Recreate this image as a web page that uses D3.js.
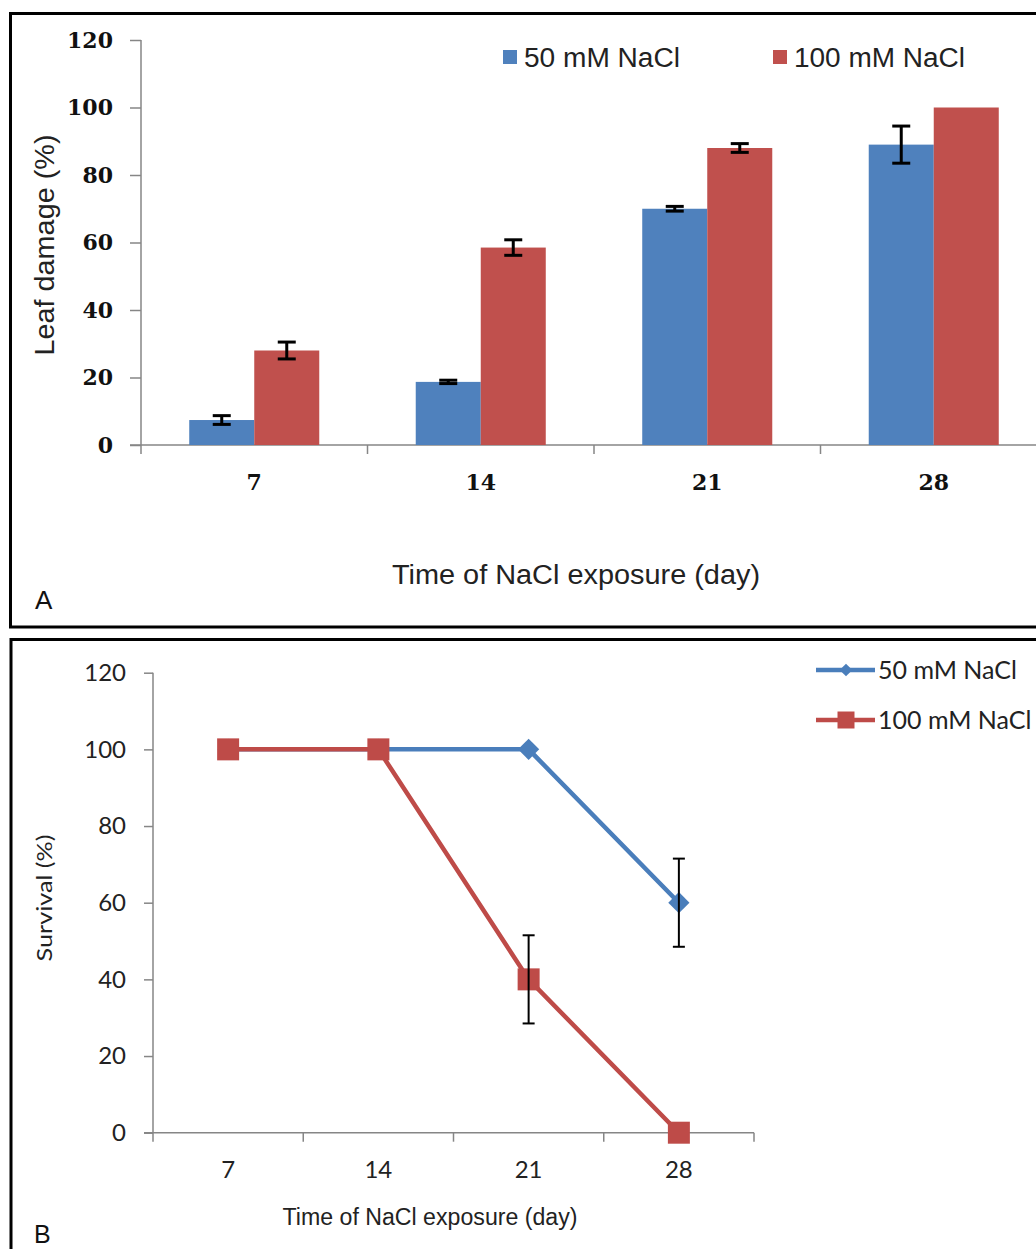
<!DOCTYPE html>
<html>
<head>
<meta charset="utf-8">
<script src="https://cdn.jsdelivr.net/npm/d3@7"></script>
<style>
  html, body { margin: 0; padding: 0; background: #fff; }
  svg { display: block; }
</style>
</head>
<body>
<script>
// Days of NaCl exposure shared by both panels
const days = [7, 14, 21, 28];
const yTicks = [0, 20, 40, 60, 80, 100, 120];
const seriesNames = ["50 mM NaCl", "100 mM NaCl"];

// Panel A: leaf damage (%) with error bars
const damage50 = [7.4, 18.7, 70, 89];
const damage50Err = [1.3, 0.5, 0.7, 5.5];
const damage100 = [28, 58.5, 88, 100];
const damage100Err = [2.5, 2.3, 1.3, 0];

// Panel B: survival (%) with error bars
const survival50 = [100, 100, 100, 60];
const survival50Err = [0, 0, 0, 11.5];
const survival100 = [100, 100, 40, 0];
const survival100Err = [0, 0, 11.5, 0];

const blue = "#4F81BD", red = "#C0504D";
const lineBlue = "#4A7EBB", lineRed = "#BE4B48";
const axisGrey = "#868686";

const svg = d3.select("body").append("svg")
  .attr("width", 1036).attr("height", 1249);

// Panel frames
svg.append("rect").attr("x", 10.5).attr("y", 13.5).attr("width", 1100).attr("height", 613.5)
  .attr("fill", "#fff").attr("stroke", "#000").attr("stroke-width", 3);
svg.append("rect").attr("x", 11).attr("y", 639.5).attr("width", 1100).attr("height", 700)
  .attr("fill", "#fff").attr("stroke", "#000").attr("stroke-width", 3);

/* ---------------- Panel A: grouped bars ---------------- */
const gA = svg.append("g");
const yA = d3.scaleLinear().domain([0, 120]).range([445, 40]);
const x0 = d3.scaleBand().domain(days).range([141, 1047]);
const x1 = d3.scaleBand().domain(seriesNames).range([0, x0.bandwidth()]).paddingOuter(0.742);

const damageRows = days.map((d, i) => ({
  day: d,
  vals: [
    { s: seriesNames[0], v: damage50[i], e: damage50Err[i], c: blue },
    { s: seriesNames[1], v: damage100[i], e: damage100Err[i], c: red }
  ]
}));

const yAxisA = d3.axisLeft(yA).tickValues(yTicks).tickSize(11).tickPadding(17);
const yAxA = gA.append("g").attr("transform", "translate(141,0)").call(yAxisA);
yAxA.select(".domain").remove();
yAxA.selectAll(".tick line").attr("stroke", axisGrey).attr("stroke-width", 1.5);
yAxA.selectAll(".tick text")
  .attr("font-family", "'DejaVu Serif', serif").attr("font-weight", "bold")
  .attr("font-size", 22).attr("fill", "#111");

// axis lines
gA.append("line").attr("x1", 141).attr("x2", 141).attr("y1", yA(120)).attr("y2", yA(0) + 9)
  .attr("stroke", axisGrey).attr("stroke-width", 1.5);
gA.append("line").attr("x1", 130).attr("x2", 1047).attr("y1", yA(0)).attr("y2", yA(0))
  .attr("stroke", axisGrey).attr("stroke-width", 1.5);
gA.selectAll(".cattick").data(days.slice(1)).join("line")
  .attr("x1", d => x0(d)).attr("x2", d => x0(d))
  .attr("y1", yA(0)).attr("y2", yA(0) + 9)
  .attr("stroke", axisGrey).attr("stroke-width", 1.5);

// bars
const grpA = gA.selectAll(".grp").data(damageRows).join("g")
  .attr("transform", d => `translate(${x0(d.day)},0)`);
grpA.selectAll("rect").data(d => d.vals).join("rect")
  .attr("x", d => x1(d.s)).attr("width", x1.bandwidth())
  .attr("y", d => yA(d.v)).attr("height", d => yA(0) - yA(d.v))
  .attr("fill", d => d.c);

// error bars
const errA = grpA.selectAll(".err").data(d => d.vals.filter(v => v.e > 0)).join("g")
  .attr("stroke", "#000").attr("stroke-width", 3);
errA.append("line")
  .attr("x1", d => x1(d.s) + x1.bandwidth() / 2).attr("x2", d => x1(d.s) + x1.bandwidth() / 2)
  .attr("y1", d => yA(d.v + d.e)).attr("y2", d => yA(d.v - d.e));
errA.append("line")
  .attr("x1", d => x1(d.s) + x1.bandwidth() / 2 - 9).attr("x2", d => x1(d.s) + x1.bandwidth() / 2 + 9)
  .attr("y1", d => yA(d.v + d.e)).attr("y2", d => yA(d.v + d.e));
errA.append("line")
  .attr("x1", d => x1(d.s) + x1.bandwidth() / 2 - 9).attr("x2", d => x1(d.s) + x1.bandwidth() / 2 + 9)
  .attr("y1", d => yA(d.v - d.e)).attr("y2", d => yA(d.v - d.e));

// category labels
gA.selectAll(".catlab").data(days).join("text")
  .attr("x", d => x0(d) + x0.bandwidth() / 2).attr("y", 490)
  .attr("text-anchor", "middle")
  .attr("font-family", "'DejaVu Serif', serif").attr("font-weight", "bold")
  .attr("font-size", 22).attr("fill", "#111")
  .text(d => d);

// axis titles
gA.append("text").attr("transform", "translate(54,245) rotate(-90)")
  .attr("text-anchor", "middle")
  .attr("font-family", "'Liberation Sans', Arial, sans-serif").attr("font-size", 27)
  .attr("textLength", 221).attr("lengthAdjust", "spacingAndGlyphs")
  .attr("fill", "#222").text("Leaf damage (%)");
gA.append("text").attr("x", 576).attr("y", 584).attr("text-anchor", "middle")
  .attr("font-family", "'Liberation Sans', Arial, sans-serif").attr("font-size", 27)
  .attr("textLength", 368).attr("lengthAdjust", "spacingAndGlyphs")
  .attr("fill", "#222").text("Time of NaCl exposure (day)");
gA.append("text").attr("x", 35).attr("y", 609)
  .attr("font-family", "'Liberation Sans', Arial, sans-serif").attr("font-size", 26)
  .attr("fill", "#111").text("A");

// legend
const legA = gA.selectAll(".legA").data([
  { name: seriesNames[0], c: blue, x: 503, w: 156 },
  { name: seriesNames[1], c: red, x: 773, w: 171 }
]).join("g").attr("transform", d => `translate(${d.x},50)`);
legA.append("rect").attr("width", 14).attr("height", 14).attr("fill", d => d.c);
legA.append("text").attr("x", 21).attr("y", 17)
  .attr("font-family", "'Liberation Sans', Arial, sans-serif").attr("font-size", 27)
  .attr("textLength", d => d.w).attr("lengthAdjust", "spacingAndGlyphs")
  .attr("fill", "#222").text(d => d.name);

/* ---------------- Panel B: survival lines ---------------- */
const gB = svg.append("g");
const yB = d3.scaleLinear().domain([0, 120]).range([1132.7, 672.7]);
const xB = d3.scaleBand().domain(days).range([153, 754]);
const cx = d => xB(d) + xB.bandwidth() / 2;

const yAxisB = d3.axisLeft(yB).tickValues(yTicks).tickSize(9).tickPadding(18);
const yAxB = gB.append("g").attr("transform", "translate(153,0)").call(yAxisB);
yAxB.select(".domain").remove();
yAxB.selectAll(".tick line").attr("stroke", axisGrey).attr("stroke-width", 1.5);
yAxB.selectAll(".tick text")
  .attr("font-family", "Lato, 'Open Sans', sans-serif").attr("font-size", 24).attr("fill", "#222");

gB.append("line").attr("x1", 153).attr("x2", 153).attr("y1", yB(120)).attr("y2", yB(0) + 9)
  .attr("stroke", axisGrey).attr("stroke-width", 1.5);
gB.append("line").attr("x1", 144).attr("x2", 754).attr("y1", yB(0)).attr("y2", yB(0))
  .attr("stroke", axisGrey).attr("stroke-width", 1.5);
gB.selectAll(".cattick").data(days.slice(1).concat(["end"])).join("line")
  .attr("x1", d => d === "end" ? 754 : xB(d)).attr("x2", d => d === "end" ? 754 : xB(d))
  .attr("y1", yB(0)).attr("y2", yB(0) + 9)
  .attr("stroke", axisGrey).attr("stroke-width", 1.5);

gB.selectAll(".catlab").data(days).join("text")
  .attr("x", cx).attr("y", 1178).attr("text-anchor", "middle")
  .attr("font-family", "Lato, 'Open Sans', sans-serif").attr("font-size", 24).attr("fill", "#222")
  .text(d => d);

const seriesB = [
  { name: seriesNames[0], vals: survival50, errs: survival50Err, c: lineBlue, marker: "diamond" },
  { name: seriesNames[1], vals: survival100, errs: survival100Err, c: lineRed, marker: "square" }
];

const line = d3.line().x(p => cx(p.day)).y(p => yB(p.v));
const diamond = d3.symbol().type(d3.symbolSquare).size(225);
const square = d3.symbol().type(d3.symbolSquare).size(484);

seriesB.forEach(s => {
  const pts = days.map((d, i) => ({ day: d, v: s.vals[i], e: s.errs[i] }));
  const g = gB.append("g");
  g.append("path").datum(pts).attr("d", line)
    .attr("fill", "none").attr("stroke", s.c).attr("stroke-width", 4.5);
  g.selectAll(".mk").data(pts).join("path")
    .attr("d", s.marker === "diamond" ? diamond : square)
    .attr("transform", p => `translate(${cx(p.day)},${yB(p.v)})` + (s.marker === "diamond" ? " rotate(45)" : ""))
    .attr("fill", s.c);
  const eb = g.selectAll(".eb").data(pts.filter(p => p.e > 0)).join("g")
    .attr("stroke", "#000").attr("stroke-width", 2);
  eb.append("line").attr("x1", p => cx(p.day)).attr("x2", p => cx(p.day))
    .attr("y1", p => yB(p.v + p.e)).attr("y2", p => yB(p.v - p.e));
  eb.append("line").attr("x1", p => cx(p.day) - 6).attr("x2", p => cx(p.day) + 6)
    .attr("y1", p => yB(p.v + p.e)).attr("y2", p => yB(p.v + p.e));
  eb.append("line").attr("x1", p => cx(p.day) - 6).attr("x2", p => cx(p.day) + 6)
    .attr("y1", p => yB(p.v - p.e)).attr("y2", p => yB(p.v - p.e));
});

gB.append("text").attr("transform", "translate(52,898) rotate(-90)")
  .attr("text-anchor", "middle")
  .attr("font-family", "Lato, 'Open Sans', sans-serif").attr("font-size", 22)
  .attr("textLength", 127).attr("lengthAdjust", "spacingAndGlyphs")
  .attr("fill", "#222").text("Survival (%)");
gB.append("text").attr("x", 430).attr("y", 1225).attr("text-anchor", "middle")
  .attr("font-family", "'Liberation Sans', Arial, sans-serif").attr("font-size", 23)
  .attr("textLength", 295).attr("lengthAdjust", "spacingAndGlyphs")
  .attr("fill", "#222").text("Time of NaCl exposure (day)");
gB.append("text").attr("x", 34).attr("y", 1243)
  .attr("font-family", "'Liberation Sans', Arial, sans-serif").attr("font-size", 25)
  .attr("fill", "#111").text("B");

// legend
const legB = gB.selectAll(".legB").data(seriesB).join("g")
  .attr("transform", (d, i) => `translate(816,${670 + i * 50})`);
legB.append("line").attr("x1", 0).attr("x2", 59).attr("stroke", d => d.c).attr("stroke-width", 4.5);
legB.append("path")
  .attr("d", d => d.marker === "diamond" ? d3.symbol().type(d3.symbolSquare).size(81)() : d3.symbol().type(d3.symbolSquare).size(289)())
  .attr("transform", d => "translate(30,0)" + (d.marker === "diamond" ? " rotate(45)" : ""))
  .attr("fill", d => d.c);
legB.append("text").attr("x", 62).attr("y", 0).attr("dy", "0.35em")
  .attr("font-family", "Lato, 'Open Sans', sans-serif").attr("font-size", 25).attr("fill", "#222")
  .text(d => d.name);
</script>
</body>
</html>
